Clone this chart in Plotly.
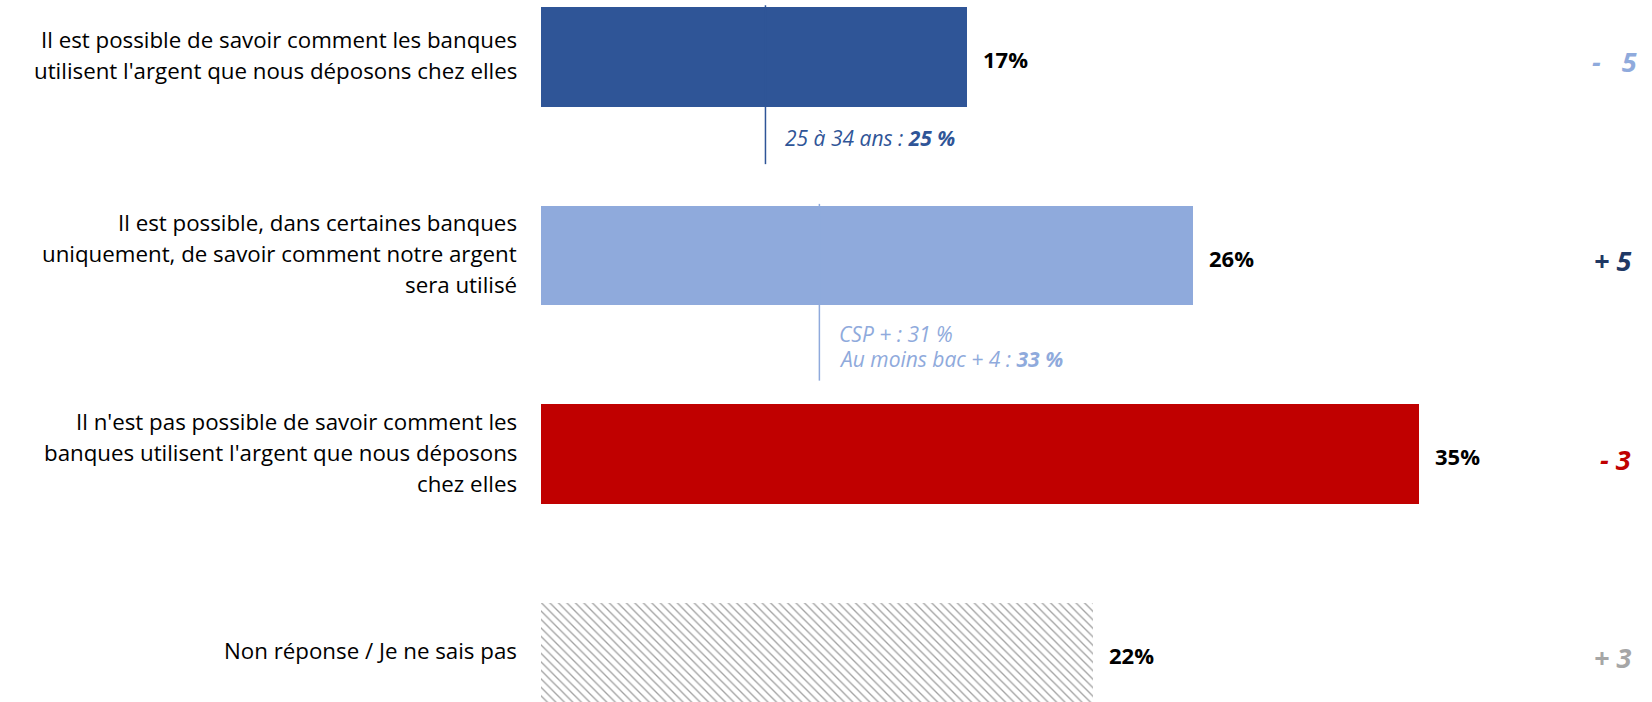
import plotly.graph_objects as go

labels = [
    "Il est possible de savoir comment les banques<br>utilisent l'argent que nous déposons chez elles",
    "Il est possible, dans certaines banques<br>uniquement, de savoir comment notre argent<br>sera utilisé",
    "Il n'est pas possible de savoir comment les<br>banques utilisent l'argent que nous déposons<br>chez elles",
    "Non réponse / Je ne sais pas",
]
values = [17, 26, 35, 22]
deltas = ["-   5", "+ 5", "- 3", "+ 3"]
bar_colors = ["#2f5597", "#8faadc", "#c00000", "#ffffff"]
delta_colors = ["#8faadc", "#1f3864", "#c00000", "#a6a6a6"]

# sous-populations (position du trait en %, lignes de texte)
subgroups = [
    (0, 8.95, ["25 à 34 ans : <b>25 %</b>"]),
    (1, 11.1, ["CSP + : 31 %", "Au moins bac + 4 : <b>33 %</b>"]),
]
subgroup_colors = ["#2f5597", "#8faadc"]

FONT = "Open Sans"
ypos = list(range(len(labels)))

fig = go.Figure()
fig.add_trace(go.Bar(
    x=values,
    y=ypos,
    orientation="h",
    width=0.5,
    marker=dict(
        color=bar_colors,
        line=dict(width=0),
        pattern=dict(
            shape=["", "", "", "\\"],
            fgcolor="#c2c2c2",
            bgcolor="#ffffff",
            size=6,
            solidity=0.22,
        ),
    ),
    hoverinfo="skip",
))

annotations = []
for i, lab in enumerate(labels):
    lines = lab.split("<br>")
    n = len(lines)
    for k, line in enumerate(lines):
        annotations.append(dict(
            x=0, y=i, xref="x", yref="y", text=line, showarrow=False,
            xanchor="right", yanchor="middle", xshift=-22,
            yshift=-(k - (n - 1) / 2) * 31 + 2,
            font=dict(family=FONT, size=22.3, color="#000000"),
        ))
    annotations.append(dict(
        x=values[i], y=i, xref="x", yref="y", text=f"<b>{values[i]}%</b>",
        showarrow=False, xanchor="left", yanchor="middle", xshift=14, yshift=-2,
        font=dict(family=FONT, size=22, color="#000000"),
    ))
    annotations.append(dict(
        x=0.983 if i else 0.988, y=i, xref="paper", yref="y",
        text=f"<b><i>{deltas[i]}</i></b>",
        showarrow=False, xanchor="right", yanchor="middle", yshift=-5,
        font=dict(family=FONT, size=27, color=delta_colors[i]),
    ))

shapes = []
for (i, xv, lines), col in zip(subgroups, subgroup_colors):
    shapes.append(dict(
        type="line", xref="x", yref="y", x0=xv, x1=xv,
        y0=i - 0.26, y1=i + 0.54 + 0.09 * (len(lines) - 1),
        line=dict(color=col, width=1.5),
    ))
    for k, line in enumerate(lines):
        annotations.append(dict(
            x=xv, y=i + 0.41 - 0.015 * (len(lines) - 1) + 0.125 * k,
            xref="x", yref="y",
            text=f"<i>{line}</i>", showarrow=False,
            xanchor="left", yanchor="middle", xshift=18,
            font=dict(family=FONT, size=21, color=col),
        ))

fig.update_layout(
    width=1652, height=702,
    margin=dict(l=541, r=0, t=0, b=0),
    plot_bgcolor="#ffffff", paper_bgcolor="#ffffff",
    showlegend=False,
    bargap=0,
    xaxis=dict(range=[0, 44.3], visible=False),
    yaxis=dict(range=[3.248, -0.2865], visible=False),
    annotations=annotations,
    shapes=shapes,
)

fig.write_html(
    "out.html",
    config={"displayModeBar": False},
    post_script="document.body.style.margin='0';",
)
